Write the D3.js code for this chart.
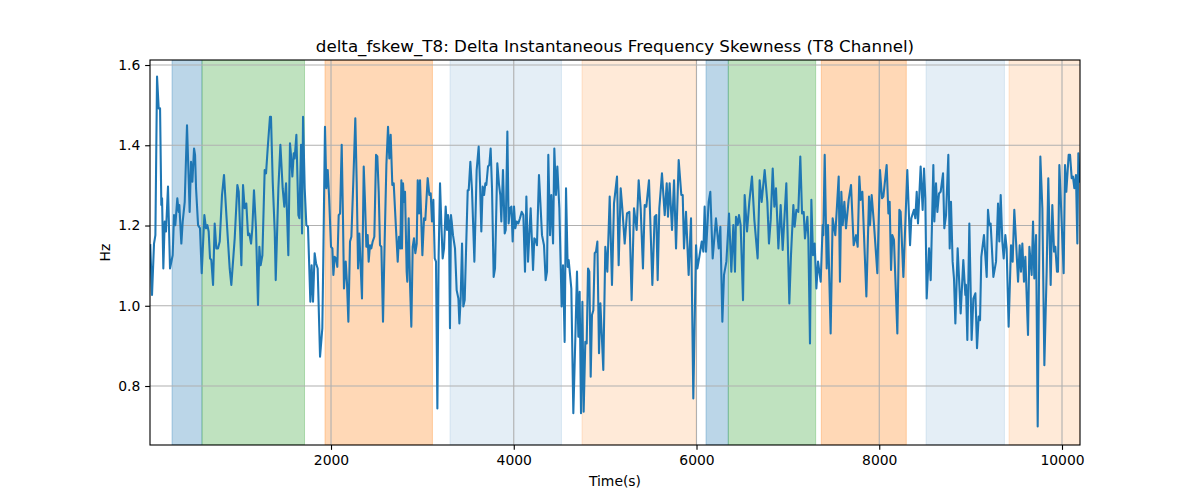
<!DOCTYPE html>
<html>
<head>
<meta charset="utf-8">
<script src="https://cdn.jsdelivr.net/npm/d3@7"></script>
<style>
  html, body { margin: 0; padding: 0; background: #fff; }
  svg { display: block; font-family: "DejaVu Sans", sans-serif; }
</style>
</head>
<body>
<svg id="chart" width="1200" height="500"></svg>
<script>
// ---- data ----
const titleText = "delta_fskew_T8: Delta Instantaneous Frequency Skewness (T8 Channel)";
const xLabel = "Time(s)";
const yLabel = "Hz";

const times = [
  22,41,63,78,96,114,129,143,151,165,180,194,216,238,267,282,296,318,333,340,362,377,399,424,442,453,468,483,501,512,523,545,566,585,614,632,647,661,676,690,709,727,745,763,782,807,829,855,891,909,
  946,975,990,1019,1037,1055,1073,1092,1106,1125,1139,1157,1179,1201,1216,1230,1249,1274,1289,1307,1332,1343,1362,1384,1395,1424,1446,1471,1489,1508,1533,1551,1562,1577,1592,1602,1621,1643,1654,1672,1683,1694,1712,1730,1748,1774,1788,1803,1821,1836,
  1854,1880,1905,1916,1934,1949,1964,1978,2000,2015,2026,2040,2055,2069,2084,2099,2117,2131,2142,2161,2175,2190,2208,2223,2244,2266,2281,2296,2310,2339,2358,2372,2387,2401,2412,2427,2441,2456,2474,2493,2507,2522,2536,2551,2569,2587,2606,2624,2638,2653,2671,2686,2711,2730,2744,2759,
  2770,2777,2788,2799,2810,2828,2835,2850,2865,2879,2894,2908,2923,2938,2949,2963,2974,2985,3000,3018,3032,3058,3076,3091,3105,3120,3135,3149,3164,3178,3193,3208,3222,3237,3255,3270,3281,3291,3302,3313,3321,3335,3357,3375,3394,3405,3419,3434,3448,3463,3496,3507,3525,3543,3569,3594,3616,3631,3645,3660,3675,
  3689,3700,3718,3733,3747,3762,3780,3795,3820,3839,3853,3864,3882,3901,3912,3930,3944,3959,3974,3988,4003,4017,4032,4050,4068,4087,4105,4123,4138,4156,4171,4185,4211,4225,4240,4254,4276,4291,4309,4331,4349,4364,4378,4397,4411,4430,4444,4462,4477,4499,4524,4539,4557,4572,4590,
  4601,4630,4652,4674,4692,4707,4721,4736,4751,4765,4783,4798,4813,4827,4842,4856,4871,4886,4900,4915,4933,4948,4980,5002,5024,5050,5075,5097,5130,5148,5170,5188,5214,5239,5265,5290,5316,5345,5367,5389,5414,5433,5451,5480,5517,
  5542,5560,5575,5593,5622,5652,5674,5688,5706,5732,5754,5776,5805,5834,5849,5863,5885,5914,5940,5965,5995,6009,6031,6057,6075,6089,6104,6133,6151,6177,6213,6243,6261,6283,6301,6327,6356,6381,6403,6421,
  6432,6451,6465,6483,6509,6527,6553,6578,6607,6633,6669,6691,6713,6746,6775,6793,6812,6834,6852,6870,6896,6921,6943,6983,7016,7034,7060,7074,7093,7114,7136,7155,7173,7187,7213,7224,7242,7257,7275,7293,7312,7330,7359,
  7381,7388,7403,7425,7439,7468,7490,7519,7556,7570,7585,7600,7618,7636,7665,7691,7720,7746,7764,7782,7797,7815,7859,7888,7899,7917,7943,7979,8008,8030,8045,8081,8100,8114,8129,8143,8161,8198,8220,8234,8264,
  8307,8337,8351,8380,8395,8410,8424,8453,8475,8490,8504,8519,8545,8563,8592,8603,8621,8636,8654,8672,8698,8712,8731,8756,8771,8785,8803,8818,8833,8858,8891,8920,8942,8949,8964,8986,9011,9030,9052,9070,9088,9103,9117,9146,9176,9190,
  9205,9219,9249,9278,9300,9314,9329,9347,9362,9380,9394,9416,9442,9460,9478,9497,9519,9537,9551,9566,9584,9599,9628,9643,9668,9683,9697,9716,9734,9748,9763,9785,9807,9832,9850,9876,9894,9913,9927,9945,9956,9971,9989,10018,10033,10047,10073,10088,10106,10120,10135,10153,10168,10179,10195
];

const values = [
  1.151,1.027,1.155,1.176,1.571,1.492,1.492,1.251,1.268,1.093,1.210,1.185,1.297,1.093,1.126,1.226,1.201,1.268,1.234,1.251,1.155,1.210,1.259,1.450,1.318,1.234,1.359,1.309,1.392,1.376,1.293,1.201,1.193,1.081,1.226,1.193,1.201,1.185,1.118,1.114,1.052,1.205,1.143,1.143,1.160,1.276,1.326,1.226,1.093,1.052,
  1.168,1.301,1.284,1.101,1.301,1.243,1.255,1.176,1.180,1.155,1.193,1.288,1.193,1.002,1.147,1.101,1.126,1.338,1.330,1.392,1.471,1.471,1.309,1.185,1.064,1.293,1.401,1.293,1.247,1.305,1.126,1.405,1.376,1.322,1.380,1.367,1.426,1.226,1.218,1.401,1.180,1.471,1.293,1.201,1.197,1.010,1.101,1.010,1.131,1.106,
  1.093,0.873,0.944,1.126,1.446,1.293,1.338,1.276,1.147,1.143,1.077,1.122,1.118,1.097,1.226,1.230,1.401,1.218,1.043,1.110,1.056,0.960,1.160,1.172,1.309,1.467,1.309,1.093,1.180,1.018,1.347,1.259,1.147,1.176,1.110,1.151,1.143,1.160,1.172,1.376,1.372,1.284,1.151,1.147,0.960,1.160,1.351,1.446,1.367,1.426,1.301,1.305,1.193,1.110,1.172,1.143,
  1.313,1.143,1.305,1.259,1.284,1.085,1.060,1.218,1.052,0.948,1.147,1.168,1.131,1.155,1.313,1.230,1.313,1.234,1.126,1.218,1.214,1.318,1.276,1.280,1.210,1.264,1.118,1.110,0.744,1.126,1.305,1.201,1.118,1.143,1.247,1.189,1.226,1.210,0.944,1.226,1.210,1.176,1.143,1.039,1.018,0.956,1.018,1.155,0.998,1.014,1.288,1.288,1.359,1.288,1.110,1.338,1.397,1.305,1.185,1.297,1.276,
  1.305,1.301,1.347,1.351,1.392,1.293,1.072,1.093,1.355,1.301,1.276,1.210,1.338,1.180,1.189,1.434,1.205,1.243,1.247,1.160,1.247,1.193,1.210,1.205,1.218,1.234,1.226,1.085,1.272,1.110,1.180,1.243,1.089,1.168,1.164,1.151,1.326,1.259,1.176,1.151,1.064,1.085,1.376,1.176,1.276,1.155,1.392,1.276,1.347,1.243,0.998,1.101,0.910,1.293,1.097,
  1.114,1.043,0.732,0.919,1.085,0.923,1.035,0.732,1.010,0.736,0.910,0.906,1.093,1.085,0.823,0.977,0.989,1.131,1.135,1.160,0.882,1.006,0.840,1.147,1.085,1.272,1.052,1.255,1.322,1.101,1.293,1.243,1.155,1.230,1.234,1.014,1.243,1.189,1.313,1.243,1.093,1.251,1.247,1.313,1.052,
  1.222,1.226,1.064,1.243,1.330,1.226,1.305,1.222,1.305,1.189,1.313,1.143,1.363,1.276,1.276,1.143,1.234,1.077,1.218,0.769,1.151,1.093,1.122,1.160,1.135,1.247,1.135,1.259,1.284,1.118,1.218,1.143,1.197,0.960,1.077,1.110,1.230,1.085,1.201,1.085,
  1.222,1.201,1.226,1.201,1.014,1.276,1.185,1.259,1.322,1.214,1.118,1.313,1.259,1.338,1.259,1.155,1.214,1.342,1.247,1.293,1.143,1.251,1.139,1.305,1.006,1.126,1.251,1.197,1.239,1.234,1.372,1.230,1.234,1.168,1.222,1.168,0.906,1.264,1.126,1.155,1.043,1.110,1.060,
  1.201,1.176,1.376,1.093,1.201,0.931,1.218,1.176,1.322,1.060,1.284,1.201,1.259,1.193,1.264,1.301,1.151,1.176,1.147,1.322,1.264,1.284,1.023,1.272,1.201,1.276,1.201,1.081,1.338,1.268,1.272,1.351,1.230,1.259,1.089,1.176,1.164,0.931,1.239,1.234,1.072,
  1.338,1.151,1.218,1.239,1.218,1.284,1.205,1.347,1.239,1.342,1.268,1.018,1.143,1.064,1.351,1.210,1.305,1.234,1.280,1.284,1.330,1.193,1.226,1.376,1.143,1.259,1.110,1.068,0.956,1.143,0.981,1.114,1.027,1.052,0.915,1.205,0.915,1.018,1.031,0.894,0.973,0.964,1.122,1.176,1.072,1.239,
  1.201,1.205,1.072,1.110,1.255,1.160,1.276,1.160,1.118,1.176,1.143,0.948,1.151,1.110,1.239,1.160,1.060,1.151,1.085,1.155,1.060,1.122,0.927,1.147,1.077,1.210,1.068,1.176,0.699,1.060,1.372,1.243,0.852,1.085,1.318,1.052,1.251,1.135,1.147,1.085,1.085,1.351,1.251,1.081,1.351,1.284,1.376,1.376,1.318,1.322,1.293,1.326,1.155,1.380,1.309
];

// shaded segments: start, end, kind
const spanStart = [260, 588, 1934, 3302, 4747, 6104, 6348, 7366, 8512, 9420];
const spanEnd   = [588, 1710, 3110, 4522, 5996, 6348, 7304, 8296, 9370, 10197];
const spanKind  = ["blueS", "greenS", "orangeS", "blueL", "orangeL", "blueS", "greenS", "orangeS", "blueL", "orangeL"];

const xTicks = [2000, 4000, 6000, 8000, 10000];
const yTicks = [0.8, 1.0, 1.2, 1.4, 1.6];
const xDomain = [19, 10197];
const yDomain = [0.653, 1.6125];

// ---- styles ----
const kindStyle = {
  blueS:   { color: "#1f77b4", opacity: 0.3 },
  greenS:  { color: "#2ca02c", opacity: 0.3 },
  orangeS: { color: "#ff7f0e", opacity: 0.3 },
  blueL:   { color: "#1f77b4", opacity: 0.12 },
  orangeL: { color: "#ff7f0e", opacity: 0.16 }
};
const PT = 100 / 72; // points to px at dpi 100

const L = 150, R = 1080, T = 60, B = 445;
const svg = d3.select("#chart");

const x = d3.scaleLinear().domain(xDomain).range([L, R]);
const y = d3.scaleLinear().domain(yDomain).range([B, T]);

const data = times.map((t, i) => ({ t, v: values[i] }));
const spans = spanStart.map((s, i) => ({ s, e: spanEnd[i], k: spanKind[i] }));

svg.append("defs").append("clipPath").attr("id", "clip")
  .append("rect").attr("x", L).attr("y", T).attr("width", R - L).attr("height", B - T);

// spans
svg.append("g").attr("clip-path", "url(#clip)")
  .selectAll("rect").data(spans).join("rect")
  .attr("x", d => x(d.s))
  .attr("width", d => x(d.e) - x(d.s))
  .attr("y", T).attr("height", B - T)
  .attr("fill", d => kindStyle[d.k].color)
  .attr("fill-opacity", d => kindStyle[d.k].opacity)
  .attr("stroke", d => kindStyle[d.k].color)
  .attr("stroke-opacity", d => kindStyle[d.k].opacity)
  .attr("stroke-width", 1);

// grid
const grid = svg.append("g");
grid.selectAll("line.gx").data(xTicks).join("line")
  .attr("x1", d => x(d)).attr("x2", d => x(d))
  .attr("y1", T).attr("y2", B)
  .attr("stroke", "#b0b0b0").attr("stroke-width", 0.8 * PT);
grid.selectAll("line.gy").data(yTicks).join("line")
  .attr("x1", L).attr("x2", R)
  .attr("y1", d => y(d)).attr("y2", d => y(d))
  .attr("stroke", "#b0b0b0").attr("stroke-width", 0.8 * PT);

// line
svg.append("path")
  .datum(data)
  .attr("clip-path", "url(#clip)")
  .attr("fill", "none")
  .attr("stroke", "#1f77b4")
  .attr("stroke-width", 1.5 * PT)
  .attr("stroke-linejoin", "round")
  .attr("stroke-linecap", "square")
  .attr("d", d3.line().x(d => x(d.t)).y(d => y(d.v)));

// axes
const xAxis = d3.axisBottom(x).tickValues(xTicks).tickFormat(d3.format("d")).tickSizeOuter(0).tickSize(3.5 * PT).tickPadding(3.5 * PT);
const yAxis = d3.axisLeft(y).tickValues(yTicks).tickFormat(d3.format(".1f")).tickSizeOuter(0).tickSize(3.5 * PT).tickPadding(3.5 * PT);

const gx = svg.append("g").attr("transform", `translate(0,${B})`).call(xAxis);
const gy = svg.append("g").attr("transform", `translate(${L},0)`).call(yAxis);
[gx, gy].forEach(g => {
  g.select(".domain").remove();
  g.selectAll(".tick line").attr("stroke", "#000").attr("stroke-width", 0.8 * PT);
  g.selectAll(".tick text").attr("fill", "#000").style("font-size", "13.9px").style("font-family", "DejaVu Sans");
});

// frame
svg.append("rect").attr("x", L).attr("y", T).attr("width", R - L).attr("height", B - T)
  .attr("fill", "none").attr("stroke", "#000").attr("stroke-width", 0.8 * PT);

// labels
svg.append("text").attr("x", (L + R) / 2).attr("y", 52).attr("text-anchor", "middle")
  .style("font-size", "16.7px").attr("fill", "#000").text(titleText);
svg.append("text").attr("x", (L + R) / 2).attr("y", 486).attr("text-anchor", "middle")
  .style("font-size", "13.9px").attr("fill", "#000").text(xLabel);
svg.append("text").attr("transform", `translate(110,${(T + B) / 2}) rotate(-90)`).attr("text-anchor", "middle")
  .style("font-size", "13.9px").attr("fill", "#000").text(yLabel);
</script>
</body>
</html>
